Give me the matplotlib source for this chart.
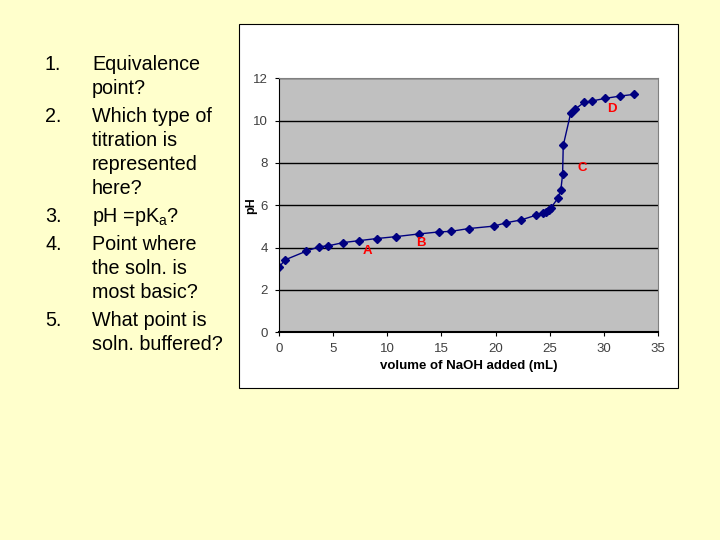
import matplotlib.pyplot as plt
from matplotlib.patches import Rectangle

# titration data
volume = [0, 0.55, 2.5, 3.73, 4.5, 5.95, 7.4, 9.03, 10.8, 12.97, 14.73, 15.9,
          17.5, 19.9, 20.92, 22.37, 23.72, 24.4, 24.65, 24.9, 25.1, 25.75,
          26.03, 26.19, 26.25, 26.95, 27.36, 28.2, 28.92, 30.1, 31.5, 32.75]
ph = [3.07, 3.42, 3.83, 4.05, 4.08, 4.24, 4.33, 4.43, 4.52, 4.65, 4.74, 4.77,
      4.9, 5.02, 5.17, 5.31, 5.53, 5.65, 5.7, 5.76, 5.87, 6.33,
      6.74, 7.46, 8.83, 10.38, 10.55, 10.87, 10.93, 11.05, 11.16, 11.24]

point_labels = ['A', 'B', 'C', 'D']
label_x = [8.16, 13.12, 28.03, 30.75]
label_y = [3.85, 4.22, 7.78, 10.55]

questions = [
    ('1.', ['Equivalence', 'point?']),
    ('2.', ['Which type of', 'titration is', 'represented', 'here?']),
    ('3.', ['pH =pK$_\\mathregular{a}$?']),
    ('4.', ['Point where', 'the soln. is', 'most basic?']),
    ('5.', ['What point is', 'soln. buffered?']),
]

plt.rcParams['font.family'] = ['Liberation Sans', 'DejaVu Sans']

W, H = 720, 540
fig = plt.figure(figsize=(7.2, 5.4), dpi=100)
fig.patch.set_facecolor('#FFFFCC')

# white chart frame, behind the axes
fig.patches.append(Rectangle((239 / W, 1 - 388 / H), 439 / W, 364 / H,
                             transform=fig.transFigure, facecolor='white',
                             edgecolor='black', linewidth=0.8, zorder=-1))

ax = fig.add_axes([279 / W, 1 - 332.3 / H, 379 / W, 254 / H])
ax.set_facecolor('#C0C0C0')
ax.plot(volume, ph, color='#000080', linewidth=1, marker='D', markersize=4)
ax.set_xlim(0, 35)
ax.set_ylim(0, 12)
ax.set_xticks(range(0, 36, 5))
ax.set_yticks(range(0, 13, 2))
ax.yaxis.grid(True, color='black', linewidth=1)
ax.set_axisbelow(True)
ax.tick_params(labelsize=9.5, labelcolor='#404040', color='black',
               length=3, pad=5, direction='out')
for side in ['top', 'right']:
    ax.spines[side].set_color('#808080')
ax.spines['bottom'].set_linewidth(1.5)

for lab, x, y in zip(point_labels, label_x, label_y):
    ax.text(x, y, lab, color='#FF0000', fontsize=9.5, fontweight='bold',
            ha='center', va='center')

ax.set_xlabel('volume of NaOH added (mL)', fontsize=9.5, fontweight='bold',
              labelpad=3)
ax.set_ylabel('pH', fontsize=9, fontweight='bold')
ax.yaxis.set_label_coords(-0.058, 0.5)

# question list on the left
y = 64
for num, lines in questions:
    fig.text(45 / W, 1 - (y + 6) / H, num, fontsize=14.2, va='baseline',
             ha='left')
    for line in lines:
        fig.text(92 / W, 1 - (y + 6) / H, line, fontsize=14.2, va='baseline',
                 ha='left')
        y += 24
    y += 4

fig.savefig('out.png', dpi=100, facecolor=fig.get_facecolor())
